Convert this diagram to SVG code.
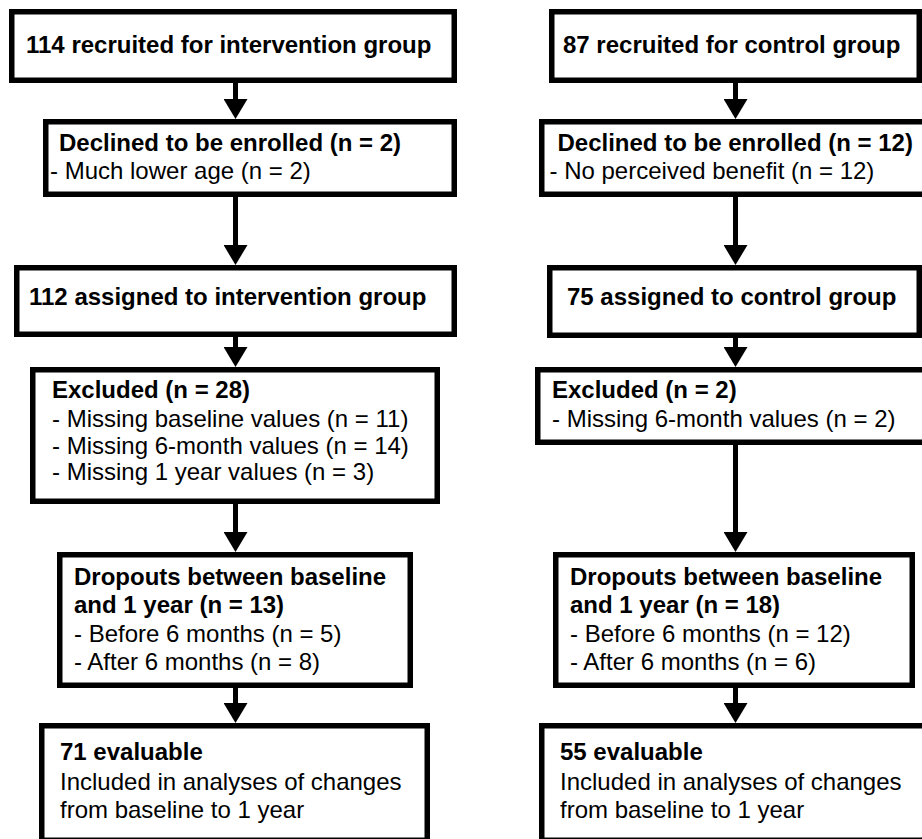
<svg xmlns="http://www.w3.org/2000/svg" width="922" height="839" viewBox="0 0 922 839">
<style>
  .box { fill: #ffffff; stroke: #000000; stroke-width: 5.5; }
  .conn { stroke: #000000; stroke-width: 5; fill: none; }
  text { font-family: "Liberation Sans", Arial, sans-serif; font-size: 24px; fill: #000000; }
  .b { font-weight: bold; }
</style>
<defs>
  <marker id="ah" viewBox="0 0 20 24" markerWidth="20" markerHeight="24" refX="0" refY="12" orient="auto" markerUnits="userSpaceOnUse">
    <path d="M0,0 L20,12 L0,24 Z" fill="#000000"/>
  </marker>
</defs>
<rect x="0" y="0" width="922" height="839" fill="#ffffff"/>

<g id="connectors">
  <line class="conn" x1="235.5" y1="83" x2="235.5" y2="99" marker-end="url(#ah)"/>
  <line class="conn" x1="235.5" y1="197" x2="235.5" y2="245" marker-end="url(#ah)"/>
  <line class="conn" x1="235.5" y1="337" x2="235.5" y2="347" marker-end="url(#ah)"/>
  <line class="conn" x1="235.5" y1="504" x2="235.5" y2="532" marker-end="url(#ah)"/>
  <line class="conn" x1="235.5" y1="688" x2="235.5" y2="703" marker-end="url(#ah)"/>
  <line class="conn" x1="735.5" y1="83" x2="735.5" y2="99" marker-end="url(#ah)"/>
  <line class="conn" x1="735.5" y1="197" x2="735.5" y2="245" marker-end="url(#ah)"/>
  <line class="conn" x1="735.5" y1="338" x2="735.5" y2="347" marker-end="url(#ah)"/>
  <line class="conn" x1="735.5" y1="445" x2="735.5" y2="532" marker-end="url(#ah)"/>
  <line class="conn" x1="735.5" y1="688" x2="735.5" y2="703" marker-end="url(#ah)"/>
</g>

<g id="int-recruited">
  <rect class="box" x="11.75" y="11.75" width="442.5" height="68.5"/>
  <text class="b" x="26" y="53">114 recruited for intervention group</text>
</g>
<g id="int-declined">
  <rect class="box" x="45.75" y="121.75" width="408.5" height="72.5"/>
  <text class="b" x="59" y="151">Declined to be enrolled (n = 2)</text>
  <text x="50" y="179">- Much lower age (n = 2)</text>
</g>
<g id="int-assigned">
  <rect class="box" x="16.75" y="267.75" width="437.5" height="66.5"/>
  <text class="b" x="29" y="305">112 assigned to intervention group</text>
</g>
<g id="int-excluded">
  <rect class="box" x="32.75" y="369.75" width="404.5" height="131.5"/>
  <text class="b" x="52" y="398">Excluded (n = 28)</text>
  <text x="52" y="427">- Missing baseline values (n = 11)</text>
  <text x="52" y="453.5">- Missing 6-month values (n = 14)</text>
  <text x="52" y="480">- Missing 1 year values (n = 3)</text>
</g>
<g id="int-dropouts">
  <rect class="box" x="59.75" y="554.75" width="350.5" height="130.5"/>
  <text class="b" x="74" y="585">Dropouts between baseline</text>
  <text class="b" x="74" y="613">and 1 year (n = 13)</text>
  <text x="74" y="642">- Before 6 months (n = 5)</text>
  <text x="74" y="670">- After 6 months (n = 8)</text>
</g>
<g id="int-evaluable">
  <rect class="box" x="41.75" y="725.75" width="385.5" height="114.5"/>
  <text class="b" x="60" y="760">71 evaluable</text>
  <text x="60" y="790">Included in analyses of changes</text>
  <text x="60" y="818">from baseline to 1 year</text>
</g>

<g id="ctl-recruited">
  <rect class="box" x="551.75" y="11.75" width="367.5" height="68.5"/>
  <text class="b" x="563" y="53">87 recruited for control group</text>
</g>
<g id="ctl-declined">
  <rect class="box" x="541.75" y="121.75" width="400" height="72.5"/>
  <text class="b" x="557.5" y="151">Declined to be enrolled (n = 12)</text>
  <text x="549.5" y="179">- No perceived benefit (n = 12)</text>
</g>
<g id="ctl-assigned">
  <rect class="box" x="549.75" y="267.75" width="369.5" height="67.5"/>
  <text class="b" x="567" y="305">75 assigned to control group</text>
</g>
<g id="ctl-excluded">
  <rect class="box" x="537.75" y="369.75" width="400" height="72.5"/>
  <text class="b" x="552" y="398">Excluded (n = 2)</text>
  <text x="552" y="427">- Missing 6-month values (n = 2)</text>
</g>
<g id="ctl-dropouts">
  <rect class="box" x="555.75" y="554.75" width="356.5" height="130.5"/>
  <text class="b" x="570" y="585">Dropouts between baseline</text>
  <text class="b" x="570" y="613">and 1 year (n = 18)</text>
  <text x="570" y="642">- Before 6 months (n = 12)</text>
  <text x="570" y="670">- After 6 months (n = 6)</text>
</g>
<g id="ctl-evaluable">
  <rect class="box" x="541.75" y="725.75" width="400" height="114.5"/>
  <text class="b" x="560" y="760">55 evaluable</text>
  <text x="560" y="790">Included in analyses of changes</text>
  <text x="560" y="818">from baseline to 1 year</text>
</g>
</svg>
